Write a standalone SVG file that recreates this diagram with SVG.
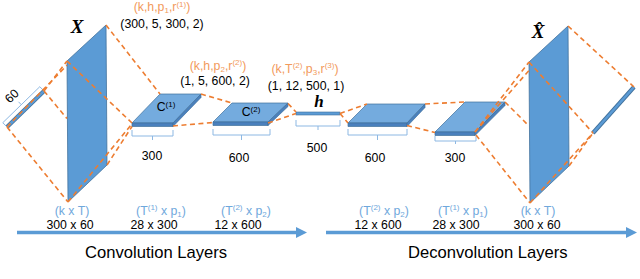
<svg xmlns="http://www.w3.org/2000/svg" width="640" height="279" viewBox="0 0 640 279">
<style>
.t{font-family:"Liberation Sans",Arial,sans-serif;font-size:12.3px;fill:#000;text-anchor:middle}
.o{fill:#f29a5c}
.b{fill:#6fa8dc}
.m{font-family:"Liberation Serif","DejaVu Serif",serif;font-weight:bold;font-style:italic;text-anchor:middle;fill:#000}
.big{font-family:"Liberation Sans",Arial,sans-serif;font-size:16.6px;fill:#000}
.plane{fill:#5b9bd5;stroke:#41719c;stroke-width:0.8}
.top{fill:#74abde;stroke:#41719c;stroke-width:0.7}
.side{fill:#4a80bd;stroke:#41719c;stroke-width:0.7}
.bar{stroke:#41719c;stroke-width:4.2;stroke-linecap:butt}
.barin{stroke:#5b9bd5;stroke-width:2.6}
.brace{fill:none;stroke:#8db8e3;stroke-width:1}
.d{fill:none;stroke:#ed7d31;stroke-width:1.6;stroke-dasharray:5 3.5}
.arr{stroke:#5b9bd5;stroke-width:3.5}
</style>
<defs>
<marker id="ah" markerUnits="userSpaceOnUse" markerWidth="12" markerHeight="12" refX="1" refY="6" orient="auto">
<path d="M0,0.5 L11,6 L0,11.5 Z" fill="#5b9bd5"/>
</marker>
</defs>

<g id="input-bar">
<line class="bar" x1="7" y1="127" x2="44" y2="91"/>
<line class="barin" x1="7" y1="127" x2="44" y2="91"/>
<path class="brace" d="M7,127 L2.8,122.7 L39.8,86.7 L44,91 M21.3,104.7 L18.5,101.8"/>
<text class="t" transform="translate(12,96) rotate(-44)" y="4">60</text>
</g>

<g id="X">
<polygon class="plane" points="67,61 106,25 107,165 68,202"/>
<text class="m" x="77" y="33" font-size="19">X</text>
</g>

<g id="C1">
<polygon class="top" points="132,123 160,94 201,94 173,123"/>
<polygon class="side" points="132,123 173,123 173,126.5 132,126.5"/>
<polygon class="side" points="173,123 201,94 201,97.5 173,126.5"/>
<text class="t" x="166" y="111">C<tspan font-size="8" dy="-4.5">(1)</tspan></text>
<path class="brace" d="M132,130 V136 H173 V130 M152.5,136 V140"/>
<text class="t" x="152" y="160">300</text>
</g>

<g id="C2">
<polygon class="top" points="213,122 232,103 288,103 268,122"/>
<polygon class="side" points="213,122 268,122 268,125.5 213,125.5"/>
<polygon class="side" points="268,122 288,103 288,106.5 268,125.5"/>
<text class="t" x="251" y="116">C<tspan font-size="8" dy="-4.5">(2)</tspan></text>
<path class="brace" d="M213,129 V135 H270 V129 M241.5,135 V140"/>
<text class="t" x="239" y="162">600</text>
</g>

<g id="h">
<rect x="296" y="112" width="44" height="3" fill="#5b9bd5" stroke="#41719c" stroke-width="0.6"/>
<text class="m" x="319" y="107" font-size="17">h</text>
<path class="brace" d="M296,120 V126 H340 V120 M318,126 V130"/>
<text class="t" x="317" y="152">500</text>
</g>

<g id="D1">
<polygon class="top" points="348,123 367,104 425,104 407,123"/>
<polygon class="side" points="348,123 407,123 407,126.5 348,126.5"/>
<polygon class="side" points="407,123 425,104 425,107.5 407,126.5"/>
<path class="brace" d="M348,129 V135 H407 V129 M377.5,135 V140"/>
<text class="t" x="375" y="162">600</text>
</g>

<g id="D2">
<polygon class="top" points="435,132 465,102 505,102 475,132"/>
<polygon class="side" points="435,132 475,132 475,135.5 435,135.5"/>
<polygon class="side" points="475,132 505,102 505,105.5 475,135.5"/>
<path class="brace" d="M435,136 V141 H476 V136 M455.5,141 V144"/>
<text class="t" x="455" y="161.5">300</text>
</g>

<g id="Xhat">
<polygon class="plane" points="529,62 568,26 569,166 530,203"/>
<text class="m" x="538" y="38" font-size="19">X̂</text>
</g>

<g id="output-bar">
<line class="bar" x1="593" y1="133" x2="634" y2="87"/>
<line class="barin" x1="593" y1="133" x2="634" y2="87"/>
</g>

<g id="connectors">
<line class="d" x1="7" y1="127" x2="68" y2="202"/>
<line class="d" x1="44" y1="91" x2="67" y2="61"/>
<line class="d" x1="44" y1="91" x2="67" y2="118.6"/>
<line class="d" x1="7" y1="127" x2="67" y2="65.2"/>
<line class="d" x1="67" y1="61" x2="132" y2="123"/>
<line class="d" x1="106" y1="25" x2="160" y2="94"/>
<line class="d" x1="68" y1="202" x2="131" y2="125"/>
<line class="d" x1="107" y1="165" x2="132" y2="126.5"/>
<line class="d" x1="201" y1="94" x2="232" y2="103"/>
<line class="d" x1="173" y1="126" x2="213" y2="122.5"/>
<line class="d" x1="288" y1="103.5" x2="296" y2="112"/>
<line class="d" x1="268" y1="123" x2="296" y2="113.5"/>
<line class="d" x1="340" y1="113.5" x2="367" y2="104"/>
<line class="d" x1="340" y1="113.5" x2="348" y2="123"/>
<line class="d" x1="425" y1="104" x2="465" y2="102"/>
<line class="d" x1="407" y1="125.5" x2="435" y2="132.5"/>
<line class="d" x1="475" y1="132" x2="529" y2="62"/>
<line class="d" x1="475" y1="132" x2="529" y2="70.5"/>
<line class="d" x1="505" y1="102" x2="529" y2="126"/>
<line class="d" x1="476" y1="135" x2="530" y2="203"/>
<line class="d" x1="568" y1="26" x2="634" y2="87"/>
<line class="d" x1="529" y1="62" x2="593" y2="133"/>
<line class="d" x1="530" y1="203" x2="593" y2="133"/>
<line class="d" x1="569" y1="166" x2="593" y2="133"/>
</g>

<g id="params">
<text class="t o" x="162" y="11">(k,h,p<tspan font-size="8" dy="2">1</tspan><tspan dy="-2">,r</tspan><tspan font-size="8" dy="-4.5">(1)</tspan><tspan dy="4.5">)</tspan></text>
<text class="t" x="162" y="27.5">(300, 5, 300, 2)</text>
<text class="t o" x="218" y="69.5">(k,h,p<tspan font-size="8" dy="2">2</tspan><tspan dy="-2">,r</tspan><tspan font-size="8" dy="-4.5">(2)</tspan><tspan dy="4.5">)</tspan></text>
<text class="t" x="215" y="84.5">(1, 5, 600, 2)</text>
<text class="t o" x="305" y="72.5">(k,T<tspan font-size="8" dy="-4.5">(2)</tspan><tspan dy="4.5">,p</tspan><tspan font-size="8" dy="2">3</tspan><tspan dy="-2">,r</tspan><tspan font-size="8" dy="-4.5">(3)</tspan><tspan dy="4.5">)</tspan></text>
<text class="t" x="306" y="89.5">(1, 12, 500, 1)</text>
</g>

<g id="dims">
<text class="t b" x="72" y="214.5">(k x T)</text>
<text class="t" x="70" y="228.5">300 x 60</text>
<text class="t b" x="161" y="214.5">(T<tspan font-size="8" dy="-4.5">(1)</tspan><tspan dy="4.5"> x p</tspan><tspan font-size="8" dy="2">1</tspan><tspan dy="-2">)</tspan></text>
<text class="t" x="154" y="228.5">28 x 300</text>
<text class="t b" x="246" y="214.5">(T<tspan font-size="8" dy="-4.5">(2)</tspan><tspan dy="4.5"> x p</tspan><tspan font-size="8" dy="2">2</tspan><tspan dy="-2">)</tspan></text>
<text class="t" x="238" y="228.5">12 x 600</text>
<text class="t b" x="384" y="214.5">(T<tspan font-size="8" dy="-4.5">(2)</tspan><tspan dy="4.5"> x p</tspan><tspan font-size="8" dy="2">2</tspan><tspan dy="-2">)</tspan></text>
<text class="t" x="378" y="228.5">12 x 600</text>
<text class="t b" x="463" y="214.5">(T<tspan font-size="8" dy="-4.5">(1)</tspan><tspan dy="4.5"> x p</tspan><tspan font-size="8" dy="2">1</tspan><tspan dy="-2">)</tspan></text>
<text class="t" x="456" y="228.5">28 x 300</text>
<text class="t b" x="538" y="214.5">(k x T)</text>
<text class="t" x="537" y="228.5">300 x 60</text>
</g>

<g id="arrows">
<line class="arr" x1="17" y1="232.5" x2="297" y2="232.5" marker-end="url(#ah)"/>
<line class="arr" x1="326" y1="232.5" x2="627" y2="232.5" marker-end="url(#ah)"/>
<text class="big" x="85" y="257.5">Convolution Layers</text>
<text class="big" x="408" y="257.5">Deconvolution Layers</text>
</g>
</svg>
